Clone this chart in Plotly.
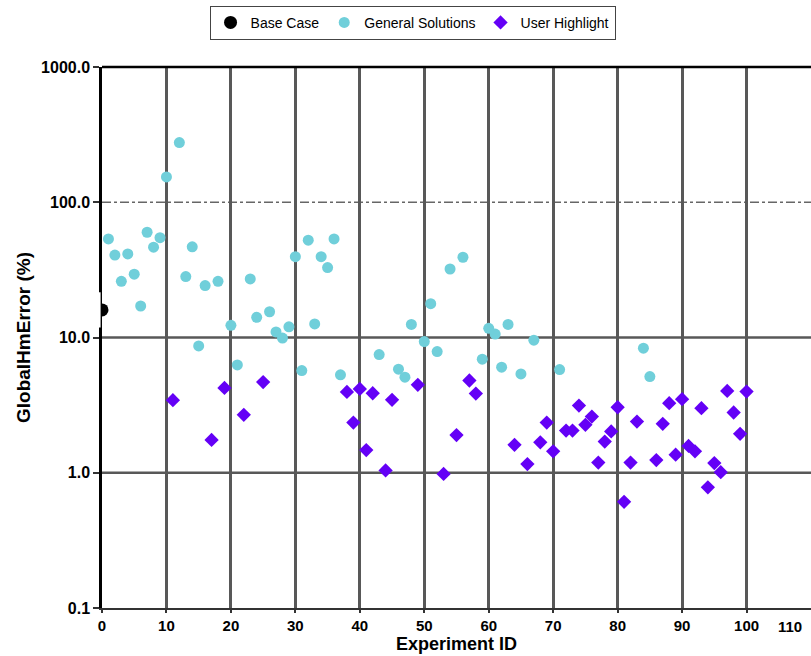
import plotly.graph_objects as go

# ---- data ----
base_x = [0]
base_y = [16.0]

gen_x = [1, 2, 3, 4, 5, 6, 7, 8, 9, 10, 12, 13, 14, 15, 16, 18, 20, 21, 23, 24,
         26, 27, 28, 29, 30, 31, 32, 33, 34, 35, 36, 37, 43, 46, 47, 48, 50, 51,
         52, 54, 56, 59, 60, 61, 62, 63, 65, 67, 71, 84, 85]
gen_y = [53.6, 40.7, 26.0, 41.5, 29.4, 17.1, 60.0, 46.5, 54.7, 154.0, 276.0, 28.2,
         46.8, 8.67, 24.2, 26.0, 12.3, 6.27, 27.1, 14.1, 15.5, 11.0, 9.9, 12.0,
         39.6, 5.7, 52.4, 12.6, 39.6, 32.9, 53.6, 5.3, 7.48, 5.83, 5.09, 12.5,
         9.33, 17.8, 7.87, 32.1, 39.2, 6.92, 11.7, 10.6, 6.03, 12.5, 5.38, 9.55,
         5.79, 8.34, 5.14]

hl_x = [11, 17, 19, 22, 25, 38, 39, 40, 41, 42, 44, 45, 49, 53, 55, 57, 58, 64,
        66, 68, 69, 70, 72, 73, 74, 75, 76, 77, 78, 79, 80, 81, 82, 83, 86, 87,
        88, 89, 90, 91, 92, 93, 94, 95, 96, 97, 98, 99, 100]
hl_y = [3.44, 1.75, 4.24, 2.68, 4.68, 3.96, 2.35, 4.17, 1.47, 3.87, 1.04, 3.46,
        4.47, 0.98, 1.90, 4.81, 3.85, 1.61, 1.16, 1.68, 2.35, 1.44, 2.05, 2.05,
        3.14, 2.26, 2.60, 1.19, 1.70, 2.02, 3.05, 0.61, 1.19, 2.39, 1.24, 2.30,
        3.27, 1.36, 3.50, 1.58, 1.44, 3.00, 0.78, 1.18, 1.01, 4.03, 2.79, 1.94,
        3.98]

x_ticks = [0, 10, 20, 30, 40, 50, 60, 70, 80, 90, 100]
y_ticks = [0.1, 1, 10, 100, 1000]
y_tick_text = ["0.1", "1.0", "10.0", "100.0", "1000.0"]
solid_hlines = [1, 10]
dash_hlines = [100]

FONT = "Liberation Sans, Arial, sans-serif"
GRID = "#585858"
PLOT_W = 811 - 102

fig = go.Figure()
fig.add_trace(go.Scatter(x=base_x, y=base_y, mode="markers", name="Base Case",
                         cliponaxis=True,
                         marker=dict(color="black", size=13, symbol="circle")))
fig.add_trace(go.Scatter(x=gen_x, y=gen_y, mode="markers", name="General Solutions",
                         marker=dict(color="#70CFDA", size=11, symbol="circle")))
fig.add_trace(go.Scatter(x=hl_x, y=hl_y, mode="markers", name="User Highlight",
                         marker=dict(color="#6400F6", size=11, symbol="diamond")))

shapes = []
for v in solid_hlines:
    shapes.append(dict(type="line", xref="paper", yref="y", x0=0, x1=1, y0=v, y1=v,
                       line=dict(color=GRID, width=2.5), layer="below"))
for v in dash_hlines:
    shapes.append(dict(type="line", xref="paper", yref="y", x0=0, x1=1, y0=v, y1=v,
                       line=dict(color="#666666", width=1.5, dash="dashdot"), layer="below"))
shapes.append(dict(type="line", xref="paper", yref="paper", x0=0, x1=1, y0=1, y1=1,
                   line=dict(color="black", width=2.5)))
# hide the part of the base-case marker that falls left of the y axis (clipped in reference)
shapes.append(dict(type="rect", xref="paper", yref="y", x0=-9 / PLOT_W, x1=-1.4 / PLOT_W,
                   y0=base_y[0] / 1.35, y1=base_y[0] * 1.35,
                   fillcolor="white", line=dict(width=0), layer="above"))

fig.update_layout(
    width=811, height=656,
    margin=dict(l=102, r=0, t=67, b=48),
    paper_bgcolor="white", plot_bgcolor="white",
    font=dict(family=FONT, color="black"),
    shapes=shapes,
    showlegend=True,
    legend=dict(orientation="h", x=0.438, xanchor="center", y=1.113, yanchor="top",
                bordercolor="#444444", borderwidth=1, bgcolor="white",
                font=dict(family=FONT, size=14, color="black"),
                itemwidth=30, tracegroupgap=0),
    xaxis=dict(range=[0, 110], tickvals=x_ticks, showgrid=True, gridcolor=GRID,
               gridwidth=2.5, zeroline=False, showline=True, linecolor="#333333",
               linewidth=2, ticks="outside", ticklen=3, tickwidth=1.5, tickcolor="#333333",
               tickfont=dict(family=FONT, size=15, weight="bold"),
               title=dict(text="Experiment ID", font=dict(family=FONT, size=18, weight="bold"),
                          standoff=1)),
    yaxis=dict(type="log", range=[-1, 3], tickvals=y_ticks, ticktext=y_tick_text,
               showgrid=False, zeroline=False, showline=True, linecolor="black",
               linewidth=2.5, ticks="outside", ticklen=6, tickwidth=1.5, tickcolor="#333333",
               tickfont=dict(family=FONT, size=16, weight="bold"),
               title=dict(text="GlobalHmError (%)", font=dict(family=FONT, size=19, weight="bold"),
                          standoff=6)),
)

fig.add_annotation(text="110", xref="paper", yref="paper", x=(790 - 102) / PLOT_W, y=0,
                   yshift=-8, yanchor="top", xanchor="center", showarrow=False,
                   font=dict(family=FONT, size=15, weight="bold", color="black"))

fig.write_html("out.html")
